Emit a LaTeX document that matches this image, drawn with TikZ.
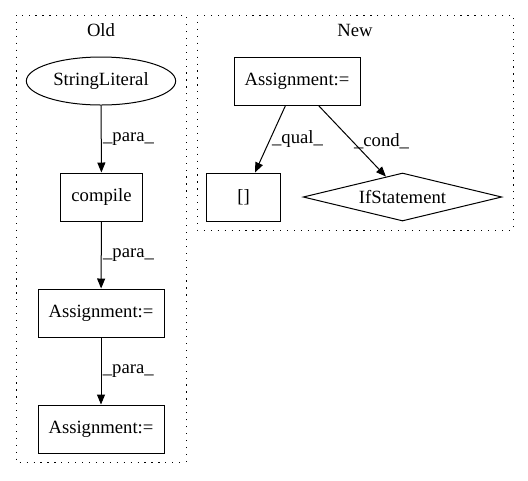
\documentclass[tikz,border=0pt]{standalone}
\usepackage{fontspec}
\setmainfont{Liberation Serif}
\usetikzlibrary{arrows.meta,shapes.geometric}
\tikzset{
  base/.style={line width=0.75pt, font=\fontsize{14pt}{16pt}\selectfont},
  box/.style={base, draw, rectangle, minimum height=36pt, inner sep=0pt},
  ell/.style={base, draw, ellipse, minimum width=112pt, minimum height=36pt, inner sep=0pt},
  dia/.style={base, draw, diamond, aspect=4.1, minimum width=149pt, minimum height=36pt, inner sep=0pt},
  cluster/.style={line width=0.75pt, dash pattern=on 0.9pt off 4.3pt},
  lab/.style={base},
  edge/.style={line width=0.75pt, -{Triangle[length=7.5pt,width=6pt]}},
  elab/.style={base, right, inner sep=1pt},
}
\begin{document}
\begin{tikzpicture}[x=0.75pt,y=-0.75pt]
  \useasboundingbox (0,0) rectangle (528,480);
  % clusters
  \draw[cluster] (16,15) rectangle (186,462);
  \node[lab] (oldlab) at (101,30) {Old};
  \draw[cluster] (197,15) rectangle (513,230);
  \node[lab] (newlab) at (355,30) {New};
  % old
  \node[ell] (lit) at (101,81) {StringLiteral};
  \node[box, minimum width=62pt] (comp) at (101.5,197) {compile};
  \node[box, minimum width=94.5pt] (asg1) at (101,313) {Assignment:=};
  \node[box, minimum width=94.5pt] (asg2) at (101,429) {Assignment:=};
  \draw[edge] (lit) -- node[elab] {\_para\_} (comp);
  \draw[edge] (comp) -- node[elab] {\_para\_} (asg1);
  \draw[edge] (asg1) -- node[elab] {\_para\_} (asg2);
  % new
  \node[box, minimum width=94.5pt] (asg3) at (297,81) {Assignment:=};
  \node[box, minimum width=55pt] (idx) at (243.5,197) {[]};
  \node[dia] (ifst) at (402.5,197) {IfStatement};
  \draw[edge] (asg3.south west) ++(52,0) coordinate (q0) (q0) -- node[elab] {\_qual\_} (idx.north -| 255,0);
  \draw[edge] (asg3.south west) ++(85,0) coordinate (c0) (c0) -- node[elab] {\_cond\_} (ifst.129);
\end{tikzpicture}
\end{document}
